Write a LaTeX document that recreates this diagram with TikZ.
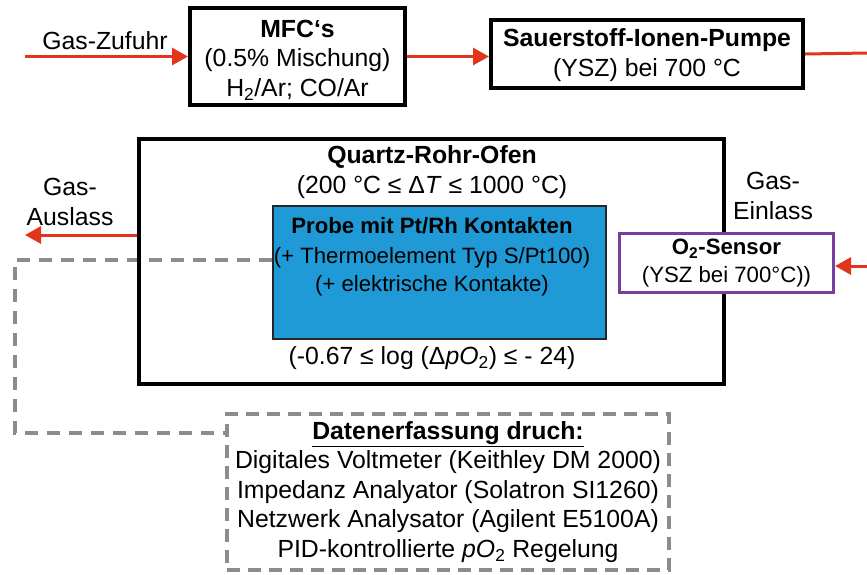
\documentclass[tikz,border=0pt]{standalone}
\usepackage{fontspec}
\setmainfont{Liberation Sans}
\usetikzlibrary{arrows.meta}
\definecolor{redline}{HTML}{E2361C}
\definecolor{probeblue}{HTML}{1F9AD6}
\definecolor{sensorpurple}{HTML}{7A3E9D}
\definecolor{dashgray}{HTML}{8C8C8C}
\begin{document}
\begin{tikzpicture}[x=1pt,y=-1pt,
  txt/.style={font=\fontsize{24.8}{29.5}\selectfont, align=center, inner sep=0pt},
  smalltxt/.style={font=\fontsize{22.2}{28}\selectfont, align=center, inner sep=0pt},
  blackbox/.style={draw=black, line width=4pt, inner sep=0pt},
  redarr/.style={draw=redline, line width=3pt, -{Triangle[length=16pt,width=17pt]}},
  redln/.style={draw=redline, line width=3pt},
  graydash/.style={draw=dashgray, line width=3.5pt, dash pattern=on 13pt off 9pt},
]
\useasboundingbox (0,0) rectangle (867,574);

% boxes (without text)
\node[blackbox, fill=white, minimum width=215pt, minimum height=97pt] (mfc) at (297.5,56.5) {};
\node[blackbox, fill=white, minimum width=312pt, minimum height=68pt] (pump) at (647,54) {};
\node[draw=black!85, line width=2pt, fill=probeblue, inner sep=0pt, minimum width=333pt, minimum height=133pt] (probe) at (439.5,272.5) {};
\node[draw=dashgray, line width=4pt, dash pattern=on 13pt off 8pt, fill=white, inner sep=0pt, minimum width=442pt, minimum height=156pt] (dat) at (448,492) {};

% dashed data connection
\coordinate (d1) at (15,260);
\coordinate (d2) at (15,433);
\draw[graydash] (d1 -| probe.west) -- (d1) -- (d2) -- (d2 -| dat.west);

\node[blackbox, minimum width=585pt, minimum height=245pt] (ofen) at (431.5,261.5) {};
\node[draw=sensorpurple, line width=3pt, fill=white, inner sep=0pt, minimum width=214pt, minimum height=59pt] (o2) at (726.5,263) {};

% red gas lines
\coordinate (zin) at (25,56.5);
\coordinate (rout) at (867,53);
\coordinate (rin) at (867,266);
\coordinate (aus) at (25,235);
\draw[redarr] (zin) -- (mfc.west);
\draw[redarr] (mfc.east) -- (mfc.east -| pump.west);
\draw[redln] (pump.east) -- (rout);
\draw[redarr] (rin) -- (rin -| o2.east);
\draw[redarr] (aus -| ofen.west) -- (aus);

% texts
\node[txt] (zuft) at (105,41) {Gas-Zufuhr};
\node[txt] (mfct) at (297.5,60) {\textbf{MFC‘s}\\(0.5\% Mischung)\\H\textsubscript{2}/Ar; CO/Ar};
\node[txt] (pumpt) at (647,55) {\textbf{Sauerstoff-Ionen-Pumpe}\\(YSZ) bei 700 °C};
\node[txt] (ofent) at (432,172) {\textbf{Quartz-Rohr-Ofen}\\(200 °C ≤ Δ\textit{T} ≤ 1000 °C)};
\node[smalltxt] (probet) at (432,257) {\textbf{Probe mit Pt/Rh Kontakten}\\[2pt](+ Thermoelement Typ S/Pt100)\\(+ elektrische Kontakte)};
\node[txt] (logt) at (432,358) {(-0.67 ≤ log (Δ\textit{pO}\textsubscript{2}) ≤ - 24)};
\node[txt] (aust) at (70,202) {Gas-\\Auslass};
\node[txt] (eint) at (773,196) {Gas-\\Einlass};
\node[smalltxt] (o2t) at (726.5,263) {\textbf{O\textsubscript{2}-Sensor}\\(YSZ bei 700°C))};
\node[txt] (datt) at (448,492) {\underline{\textbf{Datenerfassung druch:}}\\Digitales Voltmeter (Keithley DM 2000)\\Impedanz Analyator (Solatron SI1260)\\Netzwerk Analysator (Agilent E5100A)\\PID-kontrollierte \textit{pO}\textsubscript{2} Regelung};
\end{tikzpicture}
\end{document}
